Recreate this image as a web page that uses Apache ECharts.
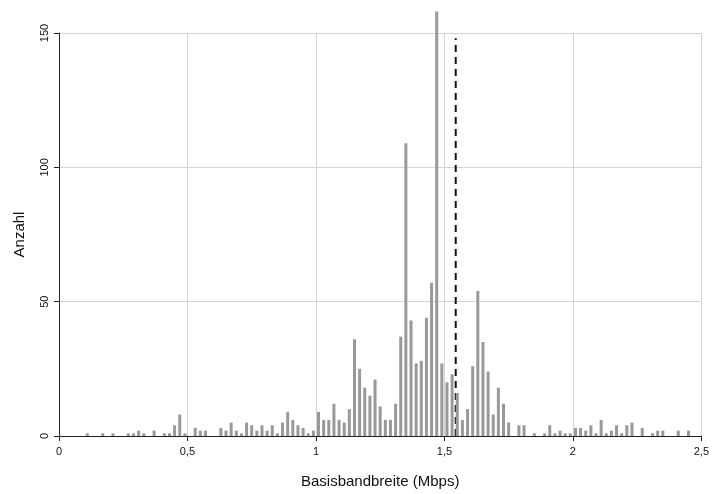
<!DOCTYPE html>
<html>
<head>
<meta charset="utf-8">
<script src="https://cdn.jsdelivr.net/npm/echarts@6/dist/echarts.min.js"></script>
<style>
html,body{margin:0;padding:0;background:#fff;}
#chart{width:712px;height:494px;}
</style>
</head>
<body>
<div id="chart"></div>
<script>
// Histogram bin centers (Mbps), 0.02 wide bins, only non-empty bins listed
var binCenters = [
  0.11,0.17,0.21,0.27,0.29,0.31,0.33,0.37,0.41,0.43,0.45,0.47,0.49,
  0.53,0.55,0.57,0.63,0.65,0.67,0.69,0.71,0.73,0.75,0.77,0.79,0.81,0.83,0.85,0.87,0.89,0.91,0.93,0.95,0.97,0.99,
  1.01,1.03,1.05,1.07,1.09,1.11,1.13,1.15,1.17,1.19,1.21,1.23,1.25,1.27,1.29,1.31,1.33,1.35,1.37,1.39,1.41,1.43,1.45,1.47,1.49,
  1.51,1.53,1.55,1.57,1.59,1.61,1.63,1.65,1.67,1.69,1.71,1.73,1.75,1.79,1.81,1.85,1.89,1.91,1.93,1.95,1.97,1.99,
  2.01,2.03,2.05,2.07,2.09,2.11,2.13,2.15,2.17,2.19,2.21,2.23,2.27,2.31,2.33,2.35,2.41,2.45
];
var counts = [
  1,1,1,1,1,2,1,2,1,1,4,8,1,
  3,2,2,3,2,5,2,1,5,4,2,4,2,4,1,5,9,6,4,3,1,2,
  9,6,6,12,6,5,10,36,25,18,15,21,11,6,6,12,37,109,43,27,28,44,57,158,27,
  20,23,16,6,10,26,54,35,24,8,18,12,5,4,4,1,1,4,1,2,1,1,
  3,3,2,4,1,6,1,2,4,1,4,5,3,1,2,2,2,2
];
// Reference line (T1 rate) and its drawn height
var refLineX = 1.544;
var refLineTop = 148;

var xTicks = [0, 0.5, 1, 1.5, 2, 2.5];
var yTicks = [0, 50, 100, 150];

var barData = binCenters.map(function (c, i) { return [c, counts[i]]; });

var chart = echarts.init(document.getElementById('chart'), null, {renderer: 'canvas'});
var fontFam = '"Liberation Sans", Arial, sans-serif';
chart.setOption({
  animation: false,
  backgroundColor: '#ffffff',
  grid: {left: 59, right: 8, top: 33, bottom: 58, containLabel: false},
  xAxis: {
    type: 'value',
    min: xTicks[0], max: xTicks[xTicks.length - 1], interval: 0.5,
    name: 'Basisbandbreite (Mbps)',
    nameLocation: 'middle', nameGap: 38,
    nameTextStyle: {fontFamily: fontFam, fontSize: 15, color: '#111'},
    axisLine: {show: true, lineStyle: {color: '#222', width: 1}},
    axisTick: {show: true, length: 5, lineStyle: {color: '#222'}},
    axisLabel: {
      fontFamily: fontFam, fontSize: 11, color: '#111', margin: 10,
      formatter: function (v) { return String(v).replace('.', ','); }
    },
    splitLine: {show: true, lineStyle: {color: '#d4d4d4', width: 1}}
  },
  yAxis: {
    type: 'value',
    min: yTicks[0], max: yTicks[yTicks.length - 1], interval: 50,
    name: 'Anzahl',
    nameLocation: 'middle', nameGap: 32,
    nameTextStyle: {fontFamily: fontFam, fontSize: 15, color: '#111'},
    axisLine: {show: true, lineStyle: {color: '#222', width: 1}},
    axisTick: {show: true, length: 5, lineStyle: {color: '#222'}},
    axisLabel: {fontFamily: fontFam, fontSize: 11, color: '#111', rotate: 90, margin: 9},
    splitLine: {show: true, lineStyle: {color: '#d4d4d4', width: 1}}
  },
  series: [
    {
      type: 'line',
      data: [[refLineX, 0], [refLineX, refLineTop]],
      symbol: 'none',
      lineStyle: {color: '#111', width: 2, type: [7, 5]},
      z: 1,
      silent: true
    },
    {
      type: 'bar',
      data: barData,
      barWidth: 3,
      clip: false,
      itemStyle: {color: '#999999'},
      z: 2
    }
  ]
});
</script>
</body>
</html>
